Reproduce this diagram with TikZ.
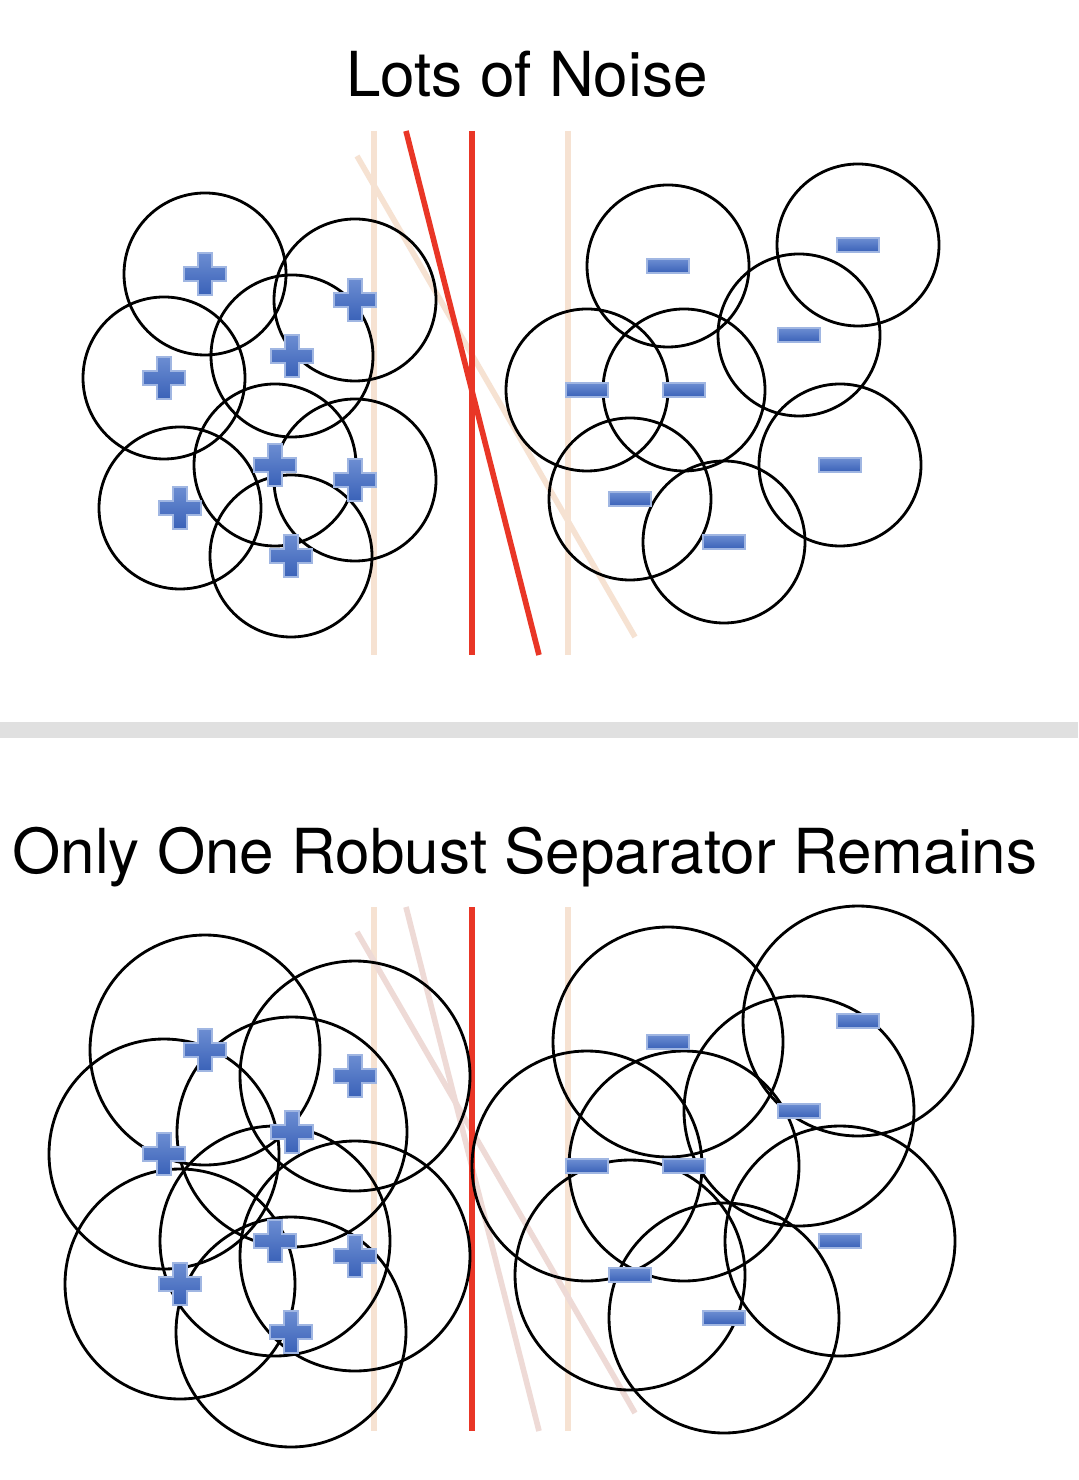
\documentclass[tikz,border=0pt]{standalone}
\usepackage{fontspec}
\setmainfont{TeX Gyre Heros}
\definecolor{sepred}{RGB}{233,54,38}
\definecolor{peach}{RGB}{246,226,210}
\definecolor{faded}{RGB}{238,218,214}
\definecolor{bargray}{RGB}{224,224,224}
\definecolor{signtop}{RGB}{108,141,210}
\definecolor{signbot}{RGB}{58,98,184}
\definecolor{signedge}{RGB}{160,182,226}
\tikzset{
  pics/plussign/.style={code={
    \shade[sign] (-7,-21) -- (7,-21) -- (7,-7) -- (21,-7) -- (21,7) -- (7,7) -- (7,21)
      -- (-7,21) -- (-7,7) -- (-21,7) -- (-21,-7) -- (-7,-7) -- cycle;}},
  pics/minussign/.style={code={
    \shade[sign] (-21,-7) rectangle (21,7);}}
}
\newcommand{\pluspts}{205/274,355/300,292/356,164/378,275/465,355/480,180/508,291/556}
\newcommand{\minuspts}{668/266,858/245,799/335,587/390,684/390,630/499,840/465,724/542}
\begin{document}
\begin{tikzpicture}[x=0.01cm,y=-0.01cm,
  ring/.style={draw=black,line width=0.8pt},
  sign/.style={top color=signtop,bottom color=signbot,draw=signedge,line width=0.3pt},
  guide/.style={line width=1.6pt},
  title/.style={anchor=base,inner sep=0pt,font=\fontsize{0.62cm}{0.75cm}\selectfont}]
  \useasboundingbox (0,0) rectangle (1078,1480);
  \fill[white] (0,0) rectangle (1078,1480);

  % Panel 1: noisy, thin margins
  \node[title] (noisy) at (527,97) {Lots of Noise};
  \draw[guide,peach] (374,131) -- (374,655);
  \draw[guide,peach] (568,131) -- (568,655);
  \draw[guide,peach] (357,156) -- (635,637);
  \draw[guide,sepred] (472,131) -- (472,655);
  \draw[guide,sepred] (406,131) -- (539,655);
  \foreach \x/\y in \pluspts {\draw[ring] (\x,\y) circle[radius=81];}
  \foreach \x/\y in \minuspts {\draw[ring] (\x,\y) circle[radius=81];}
  \foreach \x/\y in \pluspts {\pic at (\x,\y) {plussign};}
  \foreach \x/\y in \minuspts {\pic at (\x,\y) {minussign};}

  \fill[bargray] (0,722) rectangle (1078,738);

  % Panel 2: larger noise balls
  \node[title] (robust) at (525,873) {Only One Robust Separator Remains};
  \begin{scope}[shift={(0,776)}]
    \draw[guide,peach] (374,131) -- (374,655);
    \draw[guide,peach] (568,131) -- (568,655);
    \draw[guide,faded] (357,156) -- (635,637);
    \draw[guide,faded] (406,131) -- (539,655);
    \draw[guide,sepred] (472,131) -- (472,655);
    \foreach \x/\y in \pluspts {\draw[ring] (\x,\y) circle[radius=115];}
    \foreach \x/\y in \minuspts {\draw[ring] (\x,\y) circle[radius=115];}
    \foreach \x/\y in \pluspts {\pic at (\x,\y) {plussign};}
    \foreach \x/\y in \minuspts {\pic at (\x,\y) {minussign};}
  \end{scope}
\end{tikzpicture}
\end{document}
